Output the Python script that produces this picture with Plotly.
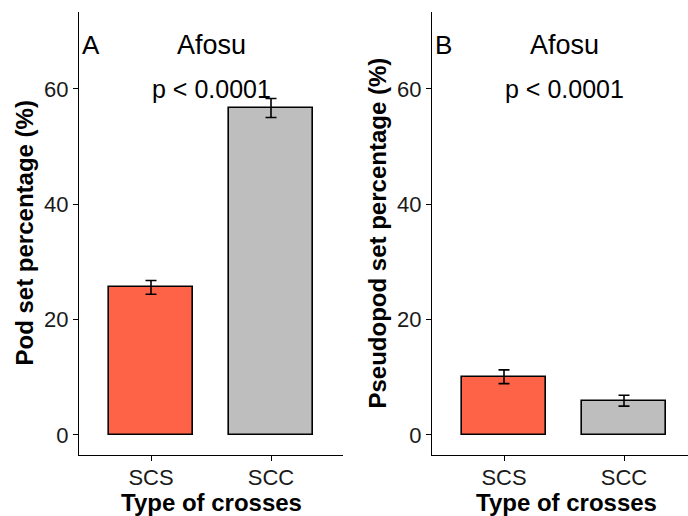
import plotly.graph_objects as go

categories = ["SCS", "SCC"]
pod_set = [25.6, 56.7]
pod_err = [1.2, 1.65]
pseudo_set = [10.1, 5.95]
pseudo_err = [1.2, 0.95]
colors = ["#FF6347", "#BEBEBE"]
y_ticks = [0, 20, 40, 60]

W, H = 688, 516
FONT = "Liberation Sans, Arial, sans-serif"

def px(x):
    return x / W

def py(y):
    return 1 - y / H

fig = go.Figure()
for i, (vals, errs) in enumerate([(pod_set, pod_err), (pseudo_set, pseudo_err)]):
    ax = "" if i == 0 else "2"
    fig.add_trace(go.Bar(
        x=[1, 2], y=vals, width=0.7,
        marker=dict(color=colors, line=dict(color="black", width=1.6)),
        error_y=dict(type="data", array=errs, visible=True, color="black",
                     thickness=1.6, width=5.5),
        xaxis="x" + ax, yaxis="y" + ax, showlegend=False, hoverinfo="skip",
    ))

axis_common = dict(showgrid=False, zeroline=False, showline=True, linecolor="black",
                   linewidth=1.3, ticks="outside", ticklen=5, tickwidth=1.3,
                   tickcolor="black", tickfont=dict(family=FONT, size=22, color="#1a1a1a"))

y_dom = [py(455), py(12)]
fig.update_layout(
    width=W, height=H, margin=dict(l=0, r=0, t=0, b=0),
    plot_bgcolor="white", paper_bgcolor="white", bargap=0,
    xaxis=dict(domain=[px(79), px(343)], range=[0.4, 2.6], tickvals=[1, 2],
               ticktext=categories, anchor="y", ticklabelstandoff=-3, **axis_common),
    yaxis=dict(domain=y_dom, range=[-3.47, 73.35], tickvals=y_ticks, anchor="x",
               **axis_common),
    xaxis2=dict(domain=[px(432), 1.0], range=[0.4, 0.4 + (688 - 432) / 120],
                tickvals=[1, 2], ticktext=categories, anchor="y2", ticklabelstandoff=-3,
                **axis_common),
    yaxis2=dict(domain=y_dom, range=[-3.47, 73.35], tickvals=y_ticks, anchor="x2",
                **axis_common),
)

ann = []
for ax, letter in [("", "A"), ("2", "B")]:
    ann.append(dict(x=0.41, y=67.6, xref="x" + ax, yref="y" + ax, text=letter,
                    showarrow=False, xanchor="left", yanchor="middle",
                    font=dict(family=FONT, size=26, color="black")))
    ann.append(dict(x=1.5, y=67.6, xref="x" + ax, yref="y" + ax, text="Afosu",
                    showarrow=False, xanchor="center", yanchor="middle",
                    font=dict(family=FONT, size=27, color="black")))
    ann.append(dict(x=1.5, y=60.0, xref="x" + ax, yref="y" + ax, text="p < 0.0001",
                    showarrow=False, xanchor="center", yanchor="middle",
                    font=dict(family=FONT, size=25, color="black")))

title_font = dict(family=FONT, size=24, color="black")
ann.append(dict(x=px(211), y=py(502), xref="paper", yref="paper", text="<b>Type of crosses</b>",
                showarrow=False, xanchor="center", yanchor="middle", font=title_font))
ann.append(dict(x=px(566), y=py(502), xref="paper", yref="paper", text="<b>Type of crosses</b>",
                showarrow=False, xanchor="center", yanchor="middle", font=title_font))
ann.append(dict(x=px(24), y=py(233.5), xref="paper", yref="paper",
                text="<b>Pod set percentage (%)</b>", textangle=-90,
                showarrow=False, xanchor="center", yanchor="middle", font=title_font))
ann.append(dict(x=px(377), y=py(233.5), xref="paper", yref="paper",
                text="<b>Pseudopod set percentage (%)</b>", textangle=-90,
                showarrow=False, xanchor="center", yanchor="middle", font=title_font))
fig.update_layout(annotations=ann)

fig.write_html("out.html", config={"displayModeBar": False},
               post_script="document.body.style.margin='0';document.body.style.overflow='hidden';")
